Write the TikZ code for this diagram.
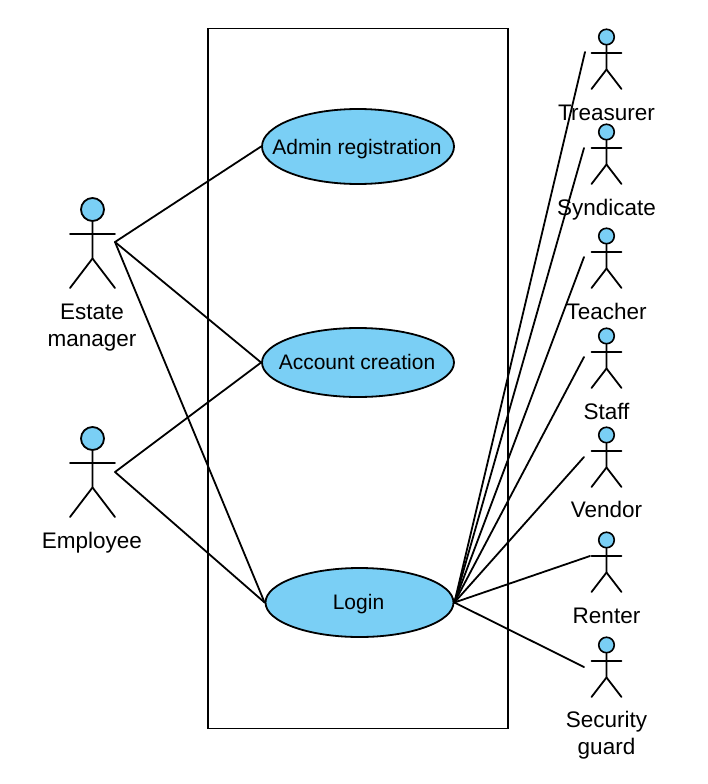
\documentclass[tikz,border=0pt]{standalone}
\usepackage{fontspec}
\setmainfont{Liberation Sans}
\usetikzlibrary{shapes.geometric}
\definecolor{fillblue}{HTML}{7ACFF5}
\tikzset{
  ln/.style={line width=1.8pt,black,line cap=round},
  usecase/.style={ellipse,draw=black,line width=1.8pt,fill=fillblue,inner sep=0pt,minimum width=#1},
  lbl/.style={font=\fontsize{22.5}{27}\selectfont,align=center,inner sep=0pt,text=black},
  inlbl/.style={font=\fontsize{21}{27}\selectfont,align=center,inner sep=0pt,text=black},
  conn/.style={line width=1.8pt,black,line cap=round},
}
% big actor: name, centre x, head centre y
\newcommand{\bigactor}[3]{%
  \node[circle,draw=black,line width=1.8pt,fill=fillblue,minimum size=23pt,inner sep=0pt] (#1) at (#2,#3) {};
  \draw[ln] (#1.south) -- (#2,#3+49) -- (#2-22.5,#3+78.5);
  \draw[ln] (#2,#3+49) -- (#2+22.5,#3+78.5);
  \draw[ln] (#2-22.5,#3+24.5) -- (#2+22.5,#3+24.5);
}
% small actor: name, centre x, head centre y
\newcommand{\smallactor}[3]{%
  \node[circle,draw=black,line width=1.6pt,fill=fillblue,minimum size=15.5pt,inner sep=0pt] (#1) at (#2,#3) {};
  \draw[ln] (#1.south) -- (#2,#3+32.5) -- (#2-15,#3+52);
  \draw[ln] (#2,#3+32.5) -- (#2+15,#3+52);
  \draw[ln] (#2-15,#3+16) -- (#2+15,#3+16);
}
\begin{document}
\begin{tikzpicture}[x=1pt,y=-1pt]
\useasboundingbox (0,0) rectangle (707,784);
\fill[white] (0,0) rectangle (707,784);
\node[draw=black,line width=1.8pt,minimum width=300pt,minimum height=700pt,inner sep=0pt] (system) at (358,378.5) {};

\node[usecase=192pt,minimum height=75pt] (admin) at (358,146.5) {};
\node[usecase=192pt,minimum height=69pt] (account) at (358,362.5) {};
\node[usecase=188pt,minimum height=69pt] (login) at (359.5,602.5) {};
\node[inlbl] (adminT) at (357,149) {Admin registration};
\node[inlbl] (accountT) at (357,362) {Account creation};
\node[inlbl] (loginT) at (358.5,604) {Login};

\bigactor{estate}{92.5}{209.5}
\bigactor{employee}{92.5}{438.5}
\coordinate (estateC) at (115,242);
\coordinate (employeeC) at (115,472);

\smallactor{treasurer}{606.5}{37}
\smallactor{syndicate}{606.5}{132}
\smallactor{teacher}{606.5}{236}
\smallactor{staff}{606.5}{336}
\smallactor{vendor}{606.5}{435}
\smallactor{renter}{606.5}{540}
\smallactor{security}{606.5}{645}

\coordinate (treasurerC) at (585,52);
\coordinate (syndicateC) at (584,148);
\coordinate (teacherC) at (584,257);
\coordinate (staffC) at (584,357);
\coordinate (vendorC) at (584,457);
\coordinate (renterC) at (590,556);
\coordinate (securityC) at (584,667);

\node[lbl] (estateT) at (92,327.5) {Estate\\manager};
\node[lbl] (employeeT) at (92,543) {Employee};
\node[lbl] (treasurerT) at (606.5,113) {Treasurer};
\node[lbl] (syndicateT) at (606.5,210) {Syndicate};
\node[lbl] (teacherT) at (606.5,311) {Teacher};
\node[lbl] (staffT) at (606.5,411) {Staff};
\node[lbl] (vendorT) at (606.5,509) {Vendor};
\node[lbl] (renterT) at (606.5,616) {Renter};
\node[lbl] (securityT) at (606.5,735.5) {Security\\guard};

\draw[conn] (estateC) -- (admin.west);
\draw[conn] (estateC) -- (account.west);
\draw[conn] (estateC) -- (login.west);
\draw[conn] (employeeC) -- (account.west);
\draw[conn] (employeeC) -- (login.west);
\foreach \t in {treasurerC,syndicateC,teacherC,staffC,vendorC,renterC,securityC}
  \draw[conn] (login.east) -- (\t);
\end{tikzpicture}
\end{document}
